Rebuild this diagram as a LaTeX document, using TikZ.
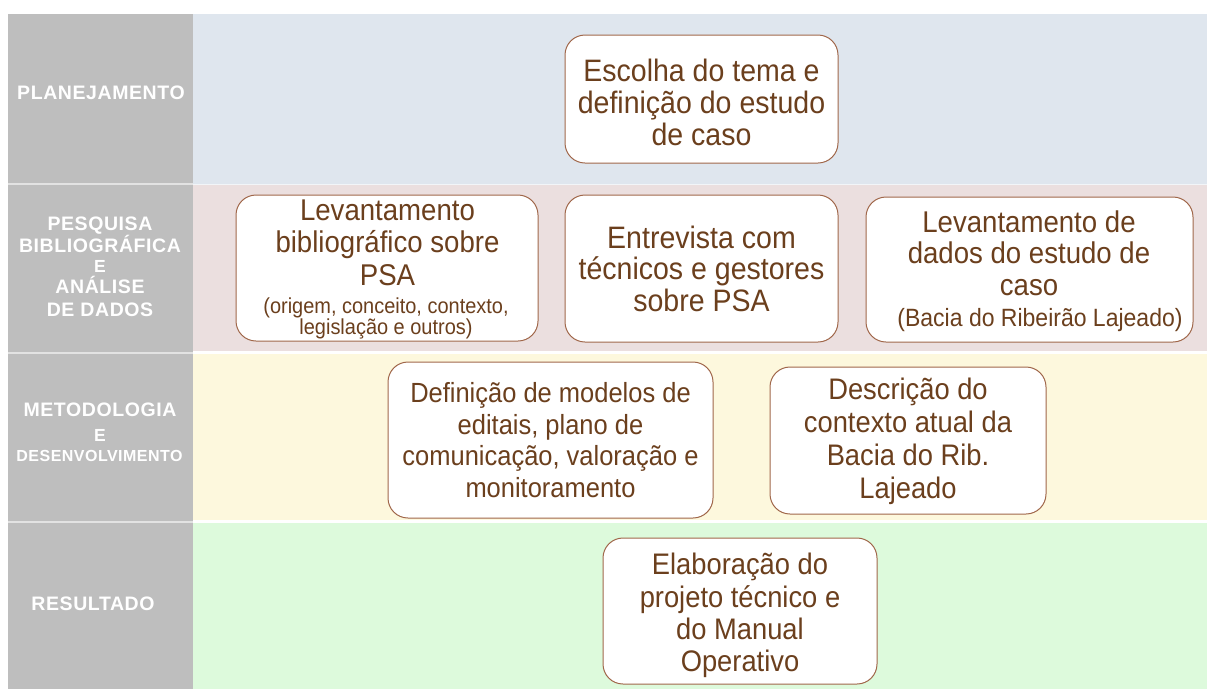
\documentclass[tikz,border=0pt]{standalone}
\usepackage{fontspec}
\setmainfont{Liberation Sans}
\newfontfamily\lblfont[LetterSpace=3]{Liberation Sans}
\newfontfamily\boxfont[FakeStretch=0.92]{Liberation Sans}
\definecolor{graycol}{HTML}{BEBEBE}
\definecolor{graysep}{HTML}{E2E2E2}
\definecolor{bandA}{HTML}{DFE6EE}
\definecolor{bandB}{HTML}{EBDFDF}
\definecolor{bandC}{HTML}{FDF8DD}
\definecolor{bandD}{HTML}{DDFADC}
\definecolor{boxline}{HTML}{A0674A}
\definecolor{txt}{HTML}{6B3F1D}
\newcommand{\fsz}[2]{\boxfont\fontsize{#1}{#2}\selectfont}
\tikzset{
  box/.style={draw=boxline, line width=1pt, fill=white, rounded corners=20pt,
    inner sep=0pt},
  boxtxt/.style={text=txt, align=center, inner sep=0pt},
  lbl/.style={text=white, anchor=base, inner sep=0pt,
    font=\lblfont\bfseries\fontsize{19.5}{21}\selectfont},
  lble/.style={text=white, anchor=base, inner sep=0pt,
    font=\lblfont\bfseries\fontsize{17.5}{18}\selectfont},
}
\begin{document}
\begin{tikzpicture}[x=1pt,y=-1pt]
\useasboundingbox (0,0) rectangle (1207,689);
\fill[white] (0,0) rectangle (1207,689);
% left column and bands
\fill[graycol] (8,14) rectangle (193,689);
\fill[bandA] (193,14) rectangle (1207,184);
\fill[bandB] (193,184) rectangle (1207,352.5);
\fill[bandC] (193,352.5) rectangle (1207,521.5);
\fill[bandD] (193,521.5) rectangle (1207,689);
\draw[graysep, line width=1.5pt] (8,184) -- (193,184);
\draw[graysep, line width=2pt] (8,352.5) -- (193,352.5);
\draw[graysep, line width=2pt] (8,521.5) -- (193,521.5);
\draw[white!60!bandA, line width=1pt] (193,184) -- (1207,184);
\draw[white, line width=2.5pt] (193,352.5) -- (1207,352.5);
\draw[white, line width=2.5pt] (193,521.5) -- (1207,521.5);

% row labels
\node[lbl] (lplan) at (101,99.3) {PLANEJAMENTO};
\node[lbl] (lpes1) at (100,230) {PESQUISA};
\node[lbl] (lpes2) at (100,252) {BIBLIOGRÁFICA};
\node[lble] (lpes3) at (100,272) {E};
\node[lbl] (lpes4) at (100,293) {ANÁLISE};
\node[lbl] (lpes5) at (100,316.7) {DE DADOS};
\node[lbl] (lmet1) at (100,416.7) {METODOLOGIA};
\node[lble] (lmet2) at (100,441) {E};
\node[lbl, font=\lblfont\bfseries\fontsize{16}{17}\selectfont] (lmet3) at (99.5,461) {DESENVOLVIMENTO};
\node[lbl] (lres) at (93,610) {RESULTADO};

% boxes
\node[box, minimum width=273pt, minimum height=128pt] (esc) at (701.5,99) {};
\node[boxtxt, font=\fsz{31}{32}] (esct) at (701.5,102.5)
  {Escolha do tema e\\definição do estudo\\de caso};

\node[box, minimum width=302pt, minimum height=146pt] (lb) at (387,268) {};
\node[boxtxt, font=\fsz{30}{32.5}] (lbt) at (387.5,242.5)
  {Levantamento\\bibliográfico sobre\\PSA};
\node[boxtxt, font=\fsz{21.7}{21}] (lbs) at (386,318)
  {(origem, conceito, contexto,\\legislação e outros)};

\node[box, minimum width=273pt, minimum height=147pt] (ent) at (701.5,268.5) {};
\node[boxtxt, font=\fsz{31}{31.5}] (entt) at (701.5,268.5)
  {Entrevista com\\técnicos e gestores\\sobre PSA};

\node[box, minimum width=327pt, minimum height=145pt] (ld) at (1029.5,269.5) {};
\node[boxtxt, font=\fsz{30}{31.5}] (ldt) at (1029,253)
  {Levantamento de\\dados do estudo de\\caso};
\node[boxtxt, anchor=base, font=\fsz{25}{26}] (lds) at (1040,326)
  {(Bacia do Ribeirão Lajeado)};

\node[box, minimum width=325pt, minimum height=156pt] (def) at (550.5,440) {};
\node[boxtxt, font=\fsz{27.7}{31.7}] (deft) at (550.5,440)
  {Definição de modelos de\\editais, plano de\\comunicação, valoração e\\monitoramento};

\node[box, minimum width=276pt, minimum height=147pt] (desc) at (908,440.5) {};
\node[boxtxt, font=\fsz{29.7}{33}] (desct) at (908,441.5)
  {Descrição do\\contexto atual da\\Bacia do Rib.\\Lajeado};

\node[box, minimum width=274pt, minimum height=146pt] (ela) at (740,611) {};
\node[boxtxt, font=\fsz{29.7}{32.3}] (elat) at (740,615.5)
  {Elaboração do\\projeto técnico e\\do Manual\\Operativo};
\end{tikzpicture}
\end{document}
